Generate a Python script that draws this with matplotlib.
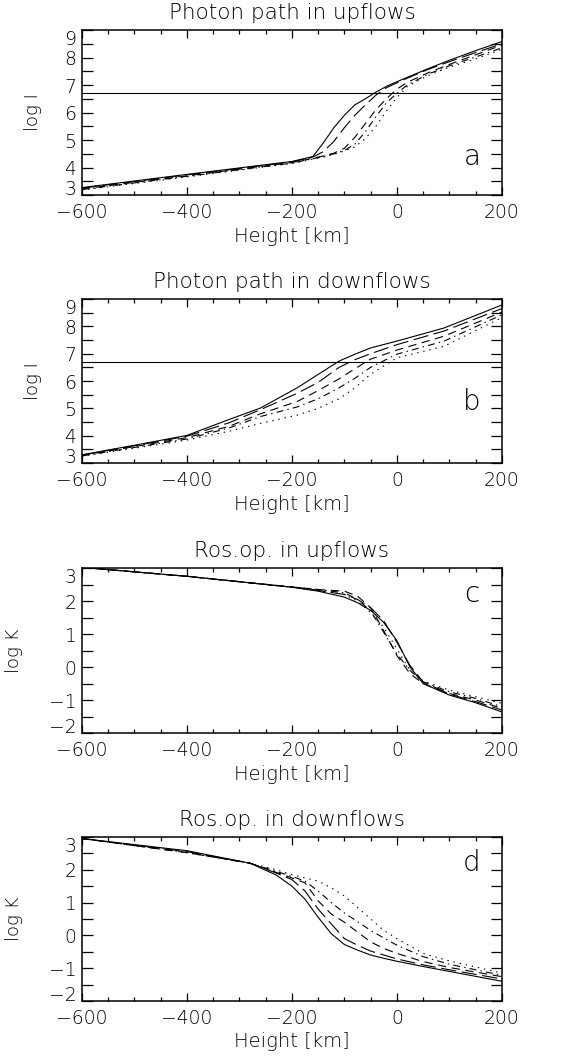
import numpy as np
import matplotlib
matplotlib.use("Agg")
import matplotlib.pyplot as plt
from matplotlib.ticker import MultipleLocator

plt.rcParams['font.family'] = ['DejaVu Sans']
plt.rcParams['font.weight'] = 'light'
plt.rcParams['axes.titleweight'] = 'light'
plt.rcParams['axes.labelweight'] = 'light'
plt.rcParams['lines.scale_dashes'] = False

# ---- Donnees ---- #

# panneau a : chemin des photons, flux montants
h_a = [-600, -400, -200, -160, -140, -120, -100, -80, -60, -40, -20, 0, 20, 60, 100, 150, 200]
a_1 = [3.27, 3.75, 4.22, 4.40, 4.90, 5.45, 5.90, 6.28, 6.50, 6.74, 6.95, 7.12, 7.28, 7.60, 7.90, 8.25, 8.58]
a_2 = [3.25, 3.73, 4.20, 4.38, 4.58, 4.95, 5.45, 5.90, 6.28, 6.63, 6.90, 7.08, 7.25, 7.57, 7.85, 8.18, 8.50]
a_3 = [3.22, 3.70, 4.18, 4.34, 4.42, 4.52, 4.70, 5.10, 5.60, 6.10, 6.50, 6.85, 7.10, 7.45, 7.75, 8.10, 8.45]
a_4 = [3.20, 3.68, 4.16, 4.32, 4.40, 4.50, 4.62, 4.85, 5.30, 5.85, 6.35, 6.70, 7.00, 7.40, 7.70, 8.02, 8.35]
a_5 = [3.18, 3.66, 4.15, 4.30, 4.38, 4.48, 4.60, 4.75, 5.05, 5.50, 6.05, 6.55, 6.95, 7.35, 7.65, 7.95, 8.30]

# panneau b : chemin des photons, flux descendants
h_b = [-600, -500, -400, -320, -260, -190, -150, -110, -80, -50, 0, 90, 200]
b_1 = [3.30, 3.65, 4.01, 4.59, 5.01, 5.75, 6.24, 6.73, 6.98, 7.21, 7.46, 7.94, 8.78]
b_2 = [3.29, 3.63, 3.98, 4.47, 4.95, 5.55, 5.95, 6.50, 6.78, 7.00, 7.33, 7.83, 8.65]
b_3 = [3.28, 3.60, 3.93, 4.34, 4.80, 5.25, 5.65, 6.08, 6.45, 6.80, 7.13, 7.64, 8.52]
b_4 = [3.26, 3.57, 3.88, 4.28, 4.70, 5.05, 5.35, 5.75, 6.10, 6.50, 6.98, 7.46, 8.42]
b_5 = [3.25, 3.54, 3.84, 4.16, 4.45, 4.75, 5.00, 5.35, 5.75, 6.25, 6.85, 7.27, 8.32]

# panneau c : opacite de Rosseland, flux montants
h_c = [-600, -400, -200, -150, -100, -75, -50, -25, 0, 25, 50, 100, 150, 200]
c_1 = [3.02, 2.75, 2.42, 2.30, 2.12, 1.95, 1.72, 1.35, 0.80, 0.00, -0.50, -0.85, -1.08, -1.36]
c_2 = [3.02, 2.75, 2.42, 2.32, 2.20, 2.05, 1.80, 1.40, 0.75, 0.05, -0.45, -0.82, -1.05, -1.30]
c_3 = [3.02, 2.75, 2.43, 2.35, 2.30, 2.15, 1.80, 1.10, 0.35, -0.20, -0.50, -0.80, -1.00, -1.25]
c_4 = [3.02, 2.75, 2.42, 2.35, 2.25, 2.05, 1.70, 1.05, 0.40, -0.10, -0.45, -0.75, -0.95, -1.20]
c_5 = [3.02, 2.75, 2.42, 2.33, 2.20, 2.00, 1.65, 1.20, 0.55, -0.10, -0.42, -0.70, -0.90, -1.10]

# panneau d : opacite de Rosseland, flux descendants
h_d = [-600, -400, -280, -230, -200, -175, -150, -125, -100, -75, -50, -25, 0, 50, 100, 200]
d_1 = [2.95, 2.58, 2.20, 1.84, 1.50, 1.10, 0.55, 0.05, -0.28, -0.45, -0.60, -0.70, -0.79, -0.95, -1.10, -1.40]
d_2 = [2.95, 2.55, 2.20, 1.90, 1.70, 1.35, 0.80, 0.35, -0.10, -0.30, -0.48, -0.60, -0.72, -0.90, -1.05, -1.33]
d_3 = [2.95, 2.52, 2.20, 1.92, 1.75, 1.60, 1.05, 0.65, 0.40, 0.10, -0.20, -0.40, -0.55, -0.80, -0.98, -1.26]
d_4 = [2.95, 2.52, 2.20, 1.95, 1.80, 1.65, 1.35, 1.00, 0.68, 0.42, 0.15, -0.08, -0.30, -0.65, -0.88, -1.22]
d_5 = [2.95, 2.55, 2.20, 2.00, 1.85, 1.75, 1.65, 1.45, 1.20, 0.85, 0.50, 0.15, -0.10, -0.55, -0.78, -1.15]

titres = ["Photon path in upflows", "Photon path in downflows",
          "Ros.op. in upflows", "Ros.op. in downflows"]
lettres = ["a", "b", "c", "d"]
ylabels = ["log I", "log I", "log K", "log K"]
niveau_tau = 6.7

styles = ['-', (0, (11, 4)), (0, (6, 4)), (0, (5, 3, 1, 3)), (0, (1, 3.5))]


# ---- Trace ---- #

fig = plt.figure(figsize=(5.69, 10.61), dpi=100)
positions = [[0.144, 0.8162, 0.738, 0.1555],
             [0.144, 0.5636, 0.738, 0.1546],
             [0.144, 0.3091, 0.738, 0.1555],
             [0.144, 0.0566, 0.738, 0.1546]]

panneaux = [(h_a, [a_1, a_2, a_3, a_4, a_5]),
            (h_b, [b_1, b_2, b_3, b_4, b_5]),
            (h_c, [c_1, c_2, c_3, c_4, c_5]),
            (h_d, [d_1, d_2, d_3, d_4, d_5])]

for i, (h, courbes) in enumerate(panneaux):
    ax = fig.add_axes(positions[i])
    for y, ls in zip(courbes, styles):
        ax.plot(h, y, color='black', lw=0.8, linestyle=ls)
    if i < 2:
        ax.axhline(niveau_tau, color='black', lw=0.8)
        ylim = (3, 9)
    else:
        ylim = (-2, 3)
    ax.set_xlim(-600, 200)
    ax.set_ylim(*ylim)
    ax.xaxis.set_major_locator(MultipleLocator(200))
    ax.xaxis.set_minor_locator(MultipleLocator(50))
    ax.yaxis.set_major_locator(MultipleLocator(1))
    ax.yaxis.set_minor_locator(MultipleLocator(0.5))
    ax.tick_params(which='both', direction='in', top=True, right=True,
                   labelsize=13.5, width=0.9)
    ax.tick_params(axis='x', which='major', length=6, pad=6)
    ax.tick_params(axis='x', which='minor', length=3)
    ax.tick_params(axis='y', which='both', length=8, pad=4)
    for sp in ax.spines.values():
        sp.set_linewidth(1.1)

    # etiquettes extremes repoussees vers l'interieur
    ticks = ax.yaxis.get_major_ticks()
    locs = ax.get_yticks()
    for t, v in zip(ticks, locs):
        if abs(v - ylim[1]) < 1e-6:
            t.label1.set_verticalalignment('top')
        elif abs(v - ylim[0]) < 1e-6:
            t.label1.set_verticalalignment('baseline')

    ax.set_title(titres[i], fontsize=15.5, pad=8)
    ax.set_xlabel("Height [km]", fontsize=14, labelpad=3)
    ax.set_ylabel(ylabels[i], fontsize=13)
    ax.yaxis.set_label_coords(-0.095 if i < 2 else -0.14, 0.5)
    yl = 4.4 if i == 0 else (5.25 if i == 1 else 2.2)
    ax.text(143, yl, lettres[i], fontsize=20, ha='center', va='center')

fig.savefig("out.png", dpi=100)
